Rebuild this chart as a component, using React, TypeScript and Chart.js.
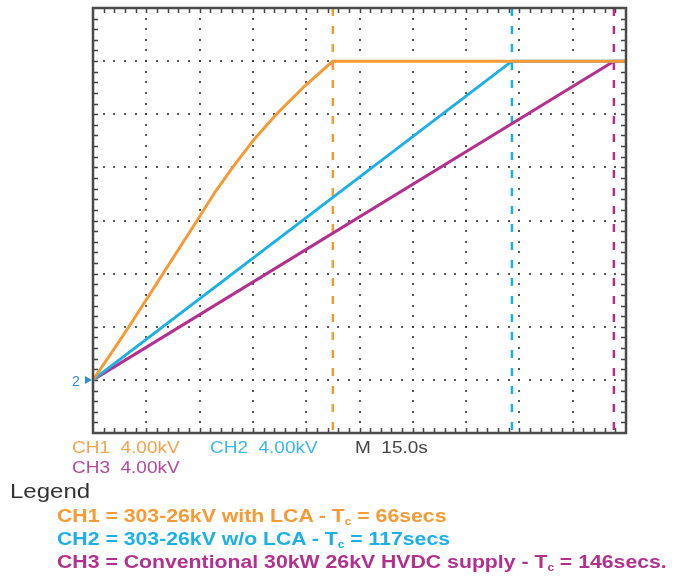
import React, { useEffect, useRef } from "react";
import { Chart, registerables } from "chart.js";

Chart.register(...registerables);

// Oscilloscope settings
const secondsPerDiv = 15; // "M 15.0s"
const kvPerDiv = 4; // "CH1/2/3 4.00kV"
const xDivisions = 10;
const yDivisions = 8;
const groundDiv = 1; // channel ground marker one division above bottom
const minorPerDiv = 5;

// CH1: 303-26kV with LCA (curved charge), seconds / kV
const ch1Time = [0, 5.1, 10.1, 14.9, 19.7, 24.5, 29.3, 34.0, 39.3, 45.0, 51.6, 59.1, 67.5, 150];
const ch1KV = [0, 2, 4, 6, 8, 10, 12, 14, 16, 18, 20, 22, 24, 24];
// CH2: 303-26kV w/o LCA
const ch2Time = [0, 117.9, 150];
const ch2KV = [0, 24, 24];
// CH3: Conventional 30kW 26kV HVDC supply
const ch3Time = [0, 146.6, 150];
const ch3KV = [0, 24, 24];
// Charge-time cursors (Tc)
const cursorTimes = [67.5, 117.9, 146.6];

const colors = ["#F59A35", "#1DB0E6", "#B3308F"];
const textColors = ["#F7A24C", "#3DB6EA", "#B24A9E"];

const xMin = 0;
const xMax = secondsPerDiv * xDivisions;
const yMin = -kvPerDiv * groundDiv;
const yMax = yMin + kvPerDiv * yDivisions;

const pts = (xs: number[], ys: number[]) => xs.map((x, i) => ({ x, y: ys[i] }));

const scopeGrid = {
  id: "scopeGrid",
  beforeDatasetsDraw(chart: any) {
    const { ctx, chartArea: a, scales } = chart;
    const x = scales.x;
    const y = scales.y;
    ctx.save();
    ctx.fillStyle = "rgba(60,60,60,0.85)";
    const xMinorStep = secondsPerDiv / minorPerDiv;
    const yMinorStep = kvPerDiv / minorPerDiv;
    // dotted vertical grid lines
    for (let i = 1; i < xDivisions; i++) {
      const px = Math.round(x.getPixelForValue(xMin + i * secondsPerDiv));
      for (let j = 1; j < yDivisions * minorPerDiv; j++) {
        const py = Math.round(y.getPixelForValue(yMin + j * yMinorStep));
        ctx.fillRect(px - 1, py - 1, 2, 2);
      }
    }
    // dotted horizontal grid lines
    for (let i = 1; i < yDivisions; i++) {
      const py = Math.round(y.getPixelForValue(yMin + i * kvPerDiv));
      for (let j = 1; j < xDivisions * minorPerDiv; j++) {
        const px = Math.round(x.getPixelForValue(xMin + j * xMinorStep));
        ctx.fillRect(px - 1, py - 1, 2, 2);
      }
    }
    // border minor ticks
    ctx.strokeStyle = "#444";
    ctx.lineWidth = 1.5;
    ctx.beginPath();
    for (let j = 1; j < xDivisions * minorPerDiv; j++) {
      const px = Math.round(x.getPixelForValue(xMin + j * xMinorStep)) + 0.5;
      ctx.moveTo(px, a.top);
      ctx.lineTo(px, a.top + 5);
      ctx.moveTo(px, a.bottom);
      ctx.lineTo(px, a.bottom - 5);
    }
    for (let j = 1; j < yDivisions * minorPerDiv; j++) {
      const py = Math.round(y.getPixelForValue(yMin + j * yMinorStep)) + 0.5;
      ctx.moveTo(a.left, py);
      ctx.lineTo(a.left + 5, py);
      ctx.moveTo(a.right, py);
      ctx.lineTo(a.right - 5, py);
    }
    ctx.stroke();
    ctx.restore();
  },
  afterDatasetsDraw(chart: any) {
    const { ctx, chartArea: a, scales } = chart;
    ctx.save();
    ctx.strokeStyle = "#4a4a4a";
    ctx.lineWidth = 2.5;
    ctx.strokeRect(a.left, a.top, a.right - a.left, a.bottom - a.top);
    // ground marker arrow
    const gy = scales.y.getPixelForValue(0);
    ctx.fillStyle = "#2E8FD6";
    ctx.beginPath();
    ctx.moveTo(a.left - 1, gy);
    ctx.lineTo(a.left - 8, gy - 4);
    ctx.lineTo(a.left - 8, gy + 4);
    ctx.closePath();
    ctx.fill();
    ctx.restore();
  },
};

export default function App() {
  const ref = useRef<HTMLCanvasElement>(null);
  useEffect(() => {
    const cursorSets = cursorTimes.map((t, i) => ({
      data: [
        { x: t, y: yMax },
        { x: t, y: yMin },
      ],
      borderColor: colors[i],
      borderWidth: 2.5,
      borderDash: [8, 10],
      pointRadius: 0,
      tension: 0,
      fill: false,
    }));
    const chart = new Chart(ref.current as HTMLCanvasElement, {
      type: "line",
      data: {
        datasets: [
          { data: pts(ch1Time, ch1KV), borderColor: colors[0], borderWidth: 3, pointRadius: 0, tension: 0, fill: false, borderJoinStyle: "round" },
          { data: pts(ch2Time, ch2KV), borderColor: colors[1], borderWidth: 3, pointRadius: 0, tension: 0, fill: false },
          { data: pts(ch3Time, ch3KV), borderColor: colors[2], borderWidth: 3, pointRadius: 0, tension: 0, fill: false },
          ...cursorSets,
        ] as any,
      },
      options: {
        responsive: false,
        animation: false,
        events: [],
        layout: { padding: { left: 93, top: 8, right: 56, bottom: 145 } },
        plugins: { legend: { display: false }, tooltip: { enabled: false }, title: { display: false } },
        scales: {
          x: {
            type: "linear",
            min: xMin,
            max: xMax,
            grid: { display: false, drawTicks: false },
            border: { display: false },
            ticks: { display: false },
          },
          y: {
            type: "linear",
            min: yMin,
            max: yMax,
            grid: { display: false, drawTicks: false },
            border: { display: false },
            ticks: { display: false },
          },
        },
      },
      plugins: [scopeGrid],
    });
    return () => chart.destroy();
  }, []);

  const base: React.CSSProperties = {
    position: "absolute",
    whiteSpace: "pre",
    lineHeight: 1,
    fontFamily: '"Liberation Sans", Arial, Helvetica, sans-serif',
    transformOrigin: "left center",
  };
  const small: React.CSSProperties = { ...base, fontSize: 16.5, transform: "scaleX(1.15)" };
  const leg: React.CSSProperties = { ...base, fontSize: 18, fontWeight: "bold", left: 57, transform: "scaleX(1.18)" };
  const sub: React.CSSProperties = { fontSize: 10, verticalAlign: "-3px" };

  return (
    <div style={{ position: "absolute", left: 0, top: 0, width: 682, height: 578, background: "#fff", overflow: "hidden" }}>
      <canvas ref={ref} width={682} height={578} style={{ position: "absolute", left: 0, top: 0, width: 682, height: 578 }} />
      <div style={{ ...base, left: 72, top: 374, fontSize: 14, color: "#2E8FD6" }}>2</div>
      <div style={{ ...small, left: 72, top: 439, color: textColors[0] }}>{"CH1  4.00kV"}</div>
      <div style={{ ...small, left: 210, top: 439, color: textColors[1] }}>{"CH2  4.00kV"}</div>
      <div style={{ ...small, left: 355, top: 439, color: "#444" }}>{"M  15.0s"}</div>
      <div style={{ ...small, left: 72, top: 459, color: textColors[2] }}>{"CH3  4.00kV"}</div>
      <div style={{ ...base, left: 10, top: 481, fontSize: 20, color: "#333", transform: "scaleX(1.2)" }}>Legend</div>
      <div style={{ ...leg, top: 507, color: colors[0] }}>
        CH1 = 303-26kV with LCA - T<span style={sub}>c</span> = 66secs
      </div>
      <div style={{ ...leg, top: 530, color: colors[1] }}>
        CH2 = 303-26kV w/o LCA - T<span style={sub}>c</span> = 117secs
      </div>
      <div style={{ ...leg, top: 553, color: colors[2] }}>
        CH3 = Conventional 30kW 26kV HVDC supply - T<span style={sub}>c</span> = 146secs.
      </div>
    </div>
  );
}
